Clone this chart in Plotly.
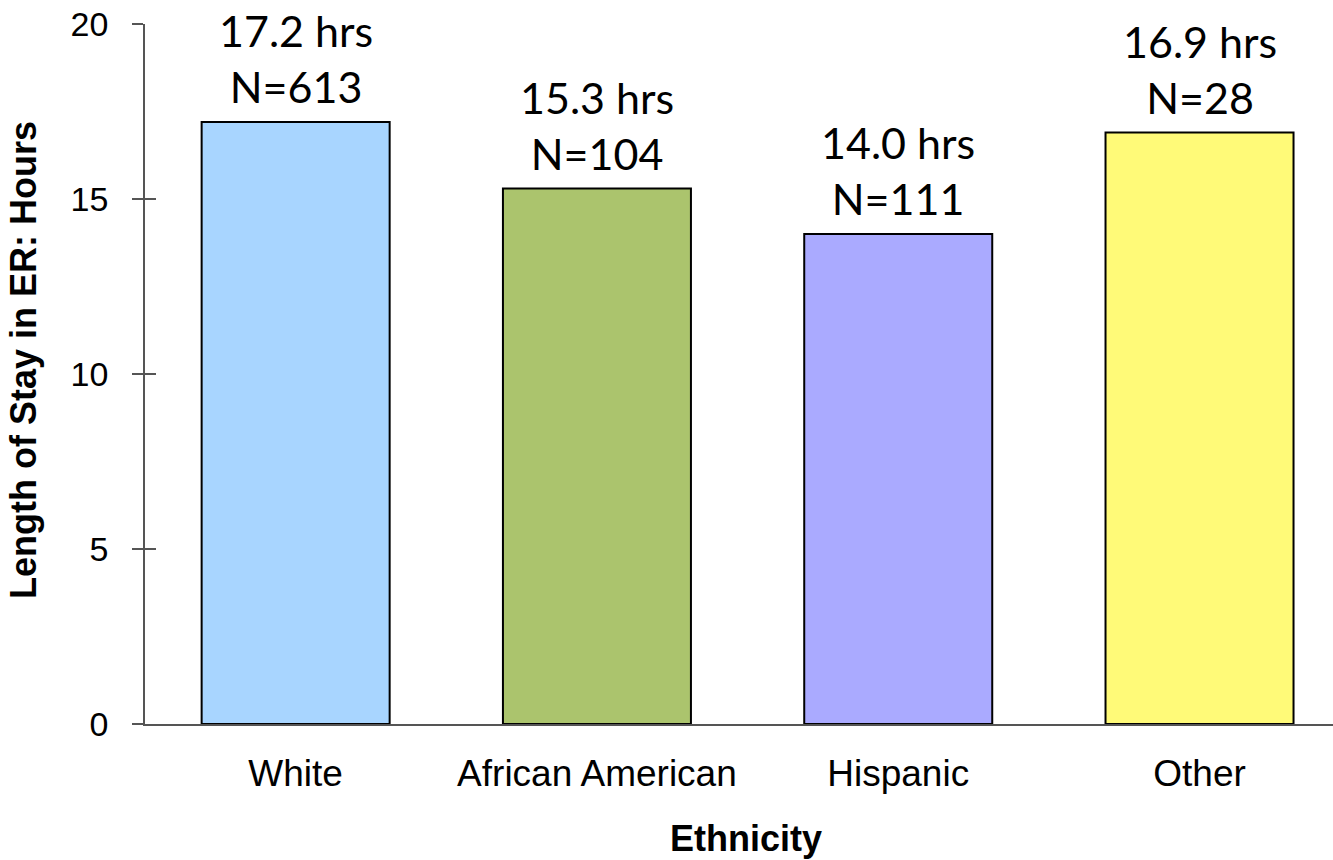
import plotly.graph_objects as go

categories = ["White", "African American", "Hispanic", "Other"]
hours = [17.2, 15.3, 14.0, 16.9]
counts = [613, 104, 111, 28]
colors = ["#A8D5FF", "#ABC46D", "#AAAAFF", "#FFFA78"]
y_ticks = [0, 5, 10, 15, 20]

labels = [f"{h:.1f} hrs<br>N={n}" for h, n in zip(hours, counts)]

fig = go.Figure()
fig.add_trace(go.Bar(
    x=categories, y=hours, width=0.624,
    marker=dict(color=colors, line=dict(color="black", width=2)),
    showlegend=False, hoverinfo="skip",
))
# invisible trace for overlay axis providing inward tick marks
fig.add_trace(go.Scatter(x=categories, y=hours, yaxis="y2", mode="markers",
                         marker=dict(opacity=0), showlegend=False, hoverinfo="skip"))

for c, h, t in zip(categories, hours, labels):
    fig.add_annotation(x=c, y=h, text=t, showarrow=False, yanchor="bottom",
                       yshift=8, font=dict(family="Lato", size=43, color="black"))

fig.add_annotation(xref="paper", yref="paper", x=0, y=0.5, xshift=-122, yshift=14,
                   xanchor="center", yanchor="middle",
                   text="<b>Length of Stay in ER: Hours</b>", textangle=-90, showarrow=False,
                   font=dict(family="Liberation Sans, Arial", size=36, color="black"))
fig.add_annotation(xref="paper", yref="paper", x=0.5, y=0, xshift=7, yshift=-114,
                   xanchor="center", yanchor="middle", text="<b>Ethnicity</b>", showarrow=False,
                   font=dict(family="Liberation Sans, Arial", size=36, color="black"))

fig.update_layout(
    width=1333, height=860,
    margin=dict(l=145, r=0, t=24, b=136),
    paper_bgcolor="white", plot_bgcolor="white",
    xaxis=dict(range=[-0.5, 3.443], showline=True, linecolor="#555", linewidth=1.5,
               ticks="", showgrid=False, zeroline=False,
               tickfont=dict(family="Liberation Sans, Arial", size=37, color="black"),
               ticklabelstandoff=16),
    yaxis=dict(range=[0, 20], tickvals=y_ticks, showline=True, linecolor="#555", linewidth=1.5,
               ticks="outside", ticklen=11, tickcolor="#555", tickwidth=1.5,
               showgrid=False, zeroline=False,
               tickfont=dict(family="Liberation Sans, Arial", size=34, color="black"),
               ticklabelstandoff=17),
    yaxis2=dict(range=[0, 20], tickvals=y_ticks, overlaying="y", side="left",
                ticks="inside", ticklen=11, tickcolor="#555", tickwidth=1.5,
                showticklabels=False, showline=False, showgrid=False, zeroline=False),
)

fig.write_html("out.html", config={"displayModeBar": False},
               post_script="document.body.style.margin='0';")
